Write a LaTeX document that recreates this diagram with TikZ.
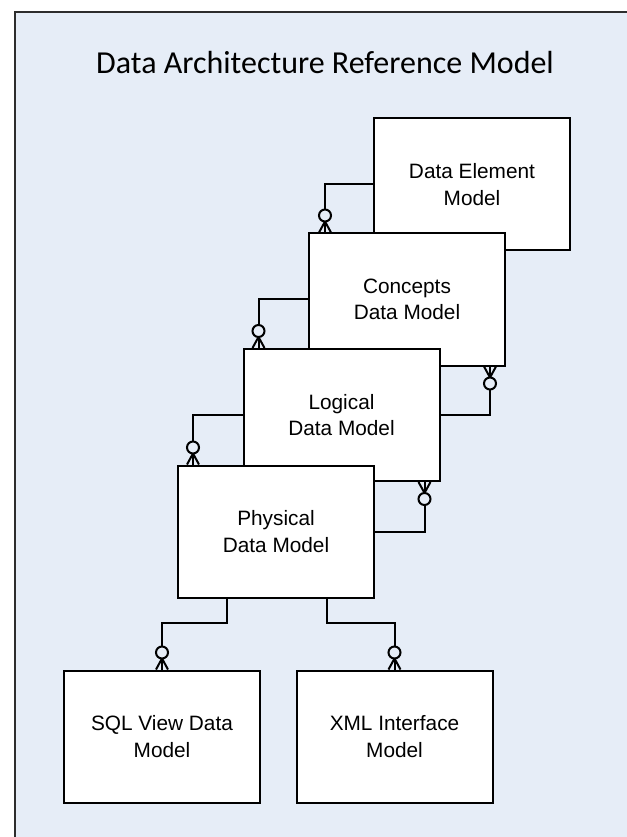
\documentclass[tikz,border=0pt]{standalone}
\usepackage{fontspec}
\setmainfont{Liberation Sans}
\newfontfamily\titlefont{Carlito}
\usetikzlibrary{calc}
\definecolor{paper}{RGB}{230,237,247}
\definecolor{framegray}{RGB}{45,45,45}
\tikzset{
  manyopt/.pic={
    \draw (0,-11) -- (-6,0) (0,-11) -- (6,0);
    \draw[fill=paper] (0,-17) circle (6);
  }
}
\begin{document}
\begin{tikzpicture}[x=0.75pt,y=-0.75pt,line width=1.5pt,
  model/.style={draw,fill=white,minimum width=147pt,minimum height=99pt,
    inner sep=0pt,align=center,font=\fontsize{15.6}{20}\selectfont}]
\useasboundingbox (0,0) rectangle (626,837);
\fill[paper] (15,12) rectangle (630,841);
\draw[framegray] (630,12) -- (15,12) -- (15,841);

\node[font=\titlefont\fontsize{24}{28}\selectfont] (title) at (325,63) {Data Architecture Reference Model};

% the layered models, back to front
\node[model] (dem) at (472,184.5) {Data Element\\Model};
\node[model] (cdm) at (407,299.5) {Concepts\\Data Model};
\node[model] (ldm) at (341.5,415) {Logical\\Data Model};
\node[model] (pdm) at (276,531.5) {Physical\\Data Model};

\node[model] (sql) at (162,736.5) {SQL View Data\\Model};
\node[model] (xml) at (394.5,736.5) {XML Interface\\Model};

% relationships
\draw (dem.west) -| ($(cdm.north west)+(17,0)$) pic {manyopt};
\draw (cdm.west) -| ($(ldm.north west)+(16,0)$) pic {manyopt};
\draw (ldm.west) -| ($(pdm.north west)+(16,0)$) pic {manyopt};

\draw (ldm.east) -| ($(cdm.south east)+(-16,0)$) pic[rotate=180] {manyopt};
\draw (pdm.east) -| ($(ldm.south east)+(-16,0)$) pic[rotate=180] {manyopt};

\draw ($(pdm.south west)+(50,0)$) -- ++(0,24) -| (sql.north) pic {manyopt};
\draw ($(pdm.south east)+(-48,0)$) -- ++(0,24) -| (xml.north) pic {manyopt};
\end{tikzpicture}
\end{document}
